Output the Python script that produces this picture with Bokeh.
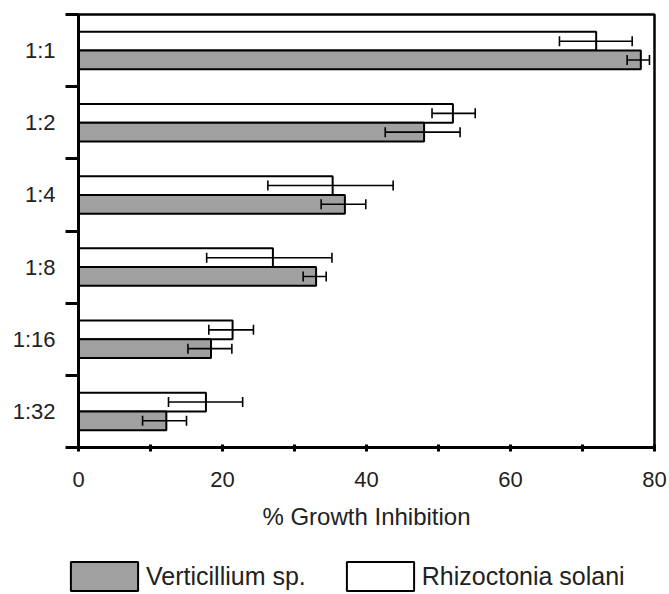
from bokeh.plotting import figure
from bokeh.layouts import column
from bokeh.models import (ColumnDataSource, Range1d, FixedTicker, Whisker, TeeHead,
                          Legend, LegendItem)
from bokeh.transform import dodge
from bokeh.embed import file_html
from bokeh.resources import INLINE

ratios = ["1:1", "1:2", "1:4", "1:8", "1:16", "1:32"]
verticillium = [78.1, 48.0, 37.0, 33.0, 18.4, 12.2]
verticillium_lo = [76.2, 42.6, 33.7, 31.2, 15.2, 8.9]
verticillium_hi = [79.3, 53.0, 39.9, 34.4, 21.3, 15.0]
rhizoctonia = [71.9, 52.0, 35.3, 27.0, 21.4, 17.7]
rhizoctonia_lo = [66.8, 49.1, 26.3, 17.8, 18.1, 12.5]
rhizoctonia_hi = [76.9, 55.1, 43.7, 35.2, 24.3, 22.8]
x_ticks = [0, 20, 40, 60, 80]
x_minor_ticks = [10, 30, 50, 70]
series_names = ["Verticillium sp.", "Rhizoctonia solani"]

n = len(ratios)
ypos = [n - i - 0.5 for i in range(n)]
source = ColumnDataSource(dict(
    y=ypos, ratio=ratios,
    vert=verticillium, vert_lo=verticillium_lo, vert_hi=verticillium_hi,
    rhiz=rhizoctonia, rhiz_lo=rhizoctonia_lo, rhiz_hi=rhizoctonia_hi,
))

FONT = "Liberation Sans"
GREY = "#a0a0a0"
TXT = "#222222"

p = figure(width=669, height=558, output_backend="svg", toolbar_location=None,
           x_range=Range1d(0, 80), y_range=Range1d(0, n),
           min_border_left=78, min_border_right=15, min_border_top=14,
           min_border_bottom=111)
p.frame_align = False
p.grid.visible = False
p.outline_line_color = "black"
p.outline_line_width = 2.5
p.background_fill_color = "white"
p.border_fill_color = "white"

bh = 0.26
bar_r = dict(fill_color="white", line_color="black", line_width=2)
bar_v = dict(fill_color=GREY, line_color="black", line_width=2)
r_rhiz = p.hbar(y=dodge("y", bh / 2, range=p.y_range), left=0, right="rhiz", height=bh,
                source=source, **bar_r)
r_vert = p.hbar(y=dodge("y", -bh / 2, range=p.y_range), left=0, right="vert", height=bh,
                source=source, **bar_v)

for base, lo, hi in [(bh / 2, "rhiz_lo", "rhiz_hi"), (-bh / 2, "vert_lo", "vert_hi")]:
    w = Whisker(source=source, base=dodge("y", base, range=p.y_range), lower=lo, upper=hi,
                dimension="width", line_color="black", line_width=1.6, level="overlay",
                lower_head=TeeHead(size=10, line_width=1.6, line_color="black"),
                upper_head=TeeHead(size=10, line_width=1.6, line_color="black"))
    p.add_layout(w)

# x axis
xa = p.xaxis[0]
xa.ticker = FixedTicker(ticks=x_ticks, minor_ticks=x_minor_ticks)
xa.axis_line_width = 3
xa.major_tick_line_width = 3
xa.minor_tick_line_width = 3
xa.major_tick_in = 3
xa.major_tick_out = 4
xa.minor_tick_in = 3
xa.minor_tick_out = 4
xa.major_label_standoff = 20
xa.major_label_text_font = FONT
xa.major_label_text_font_size = "22px"
xa.major_label_text_color = TXT
xa.axis_label = "% Growth Inhibition"
xa.axis_label_text_font = FONT
xa.axis_label_text_font_size = "24px"
xa.axis_label_text_font_style = "normal"
xa.axis_label_text_color = TXT
xa.axis_label_standoff = 13

# y axis
ya = p.yaxis[0]
ya.ticker = FixedTicker(ticks=ypos, minor_ticks=list(range(n + 1)))
ya.major_label_overrides = {yv: r for yv, r in zip(ypos, ratios)}
ya.axis_line_width = 3
ya.major_tick_line_color = None
ya.major_tick_in = 0
ya.major_tick_out = 0
ya.minor_tick_line_width = 3
ya.minor_tick_in = 0
ya.minor_tick_out = 13
ya.major_label_standoff = 10
ya.major_label_text_font = FONT
ya.major_label_text_font_size = "22px"
ya.major_label_text_color = TXT

# legend strip: hidden renderers that share the bar styles
pl = figure(width=669, height=36, output_backend="svg", toolbar_location=None,
            x_axis_location=None, y_axis_location=None, min_border=0,
            x_range=Range1d(0, 80), y_range=Range1d(0, n))
pl.frame_align = False
pl.grid.visible = False
pl.outline_line_color = None
l_vert = pl.hbar(y="y", left=0, right="vert", height=bh, source=source, visible=False, **bar_v)
l_rhiz = pl.hbar(y="y", left=0, right="rhiz", height=bh, source=source, visible=False, **bar_r)
legend = Legend(items=[LegendItem(label=series_names[0], renderers=[l_vert]),
                       LegendItem(label=series_names[1], renderers=[l_rhiz])],
                location=(62, 0), orientation="horizontal",
                glyph_width=84, glyph_height=36, label_standoff=0, spacing=32,
                padding=0, margin=0, border_line_color=None,
                background_fill_alpha=0, inactive_fill_alpha=0,
                label_text_font=FONT, label_text_font_size="25px",
                label_text_color=TXT)
pl.add_layout(legend, "center")

open("out.html", "w").write(file_html(column(p, pl, spacing=0), INLINE))
